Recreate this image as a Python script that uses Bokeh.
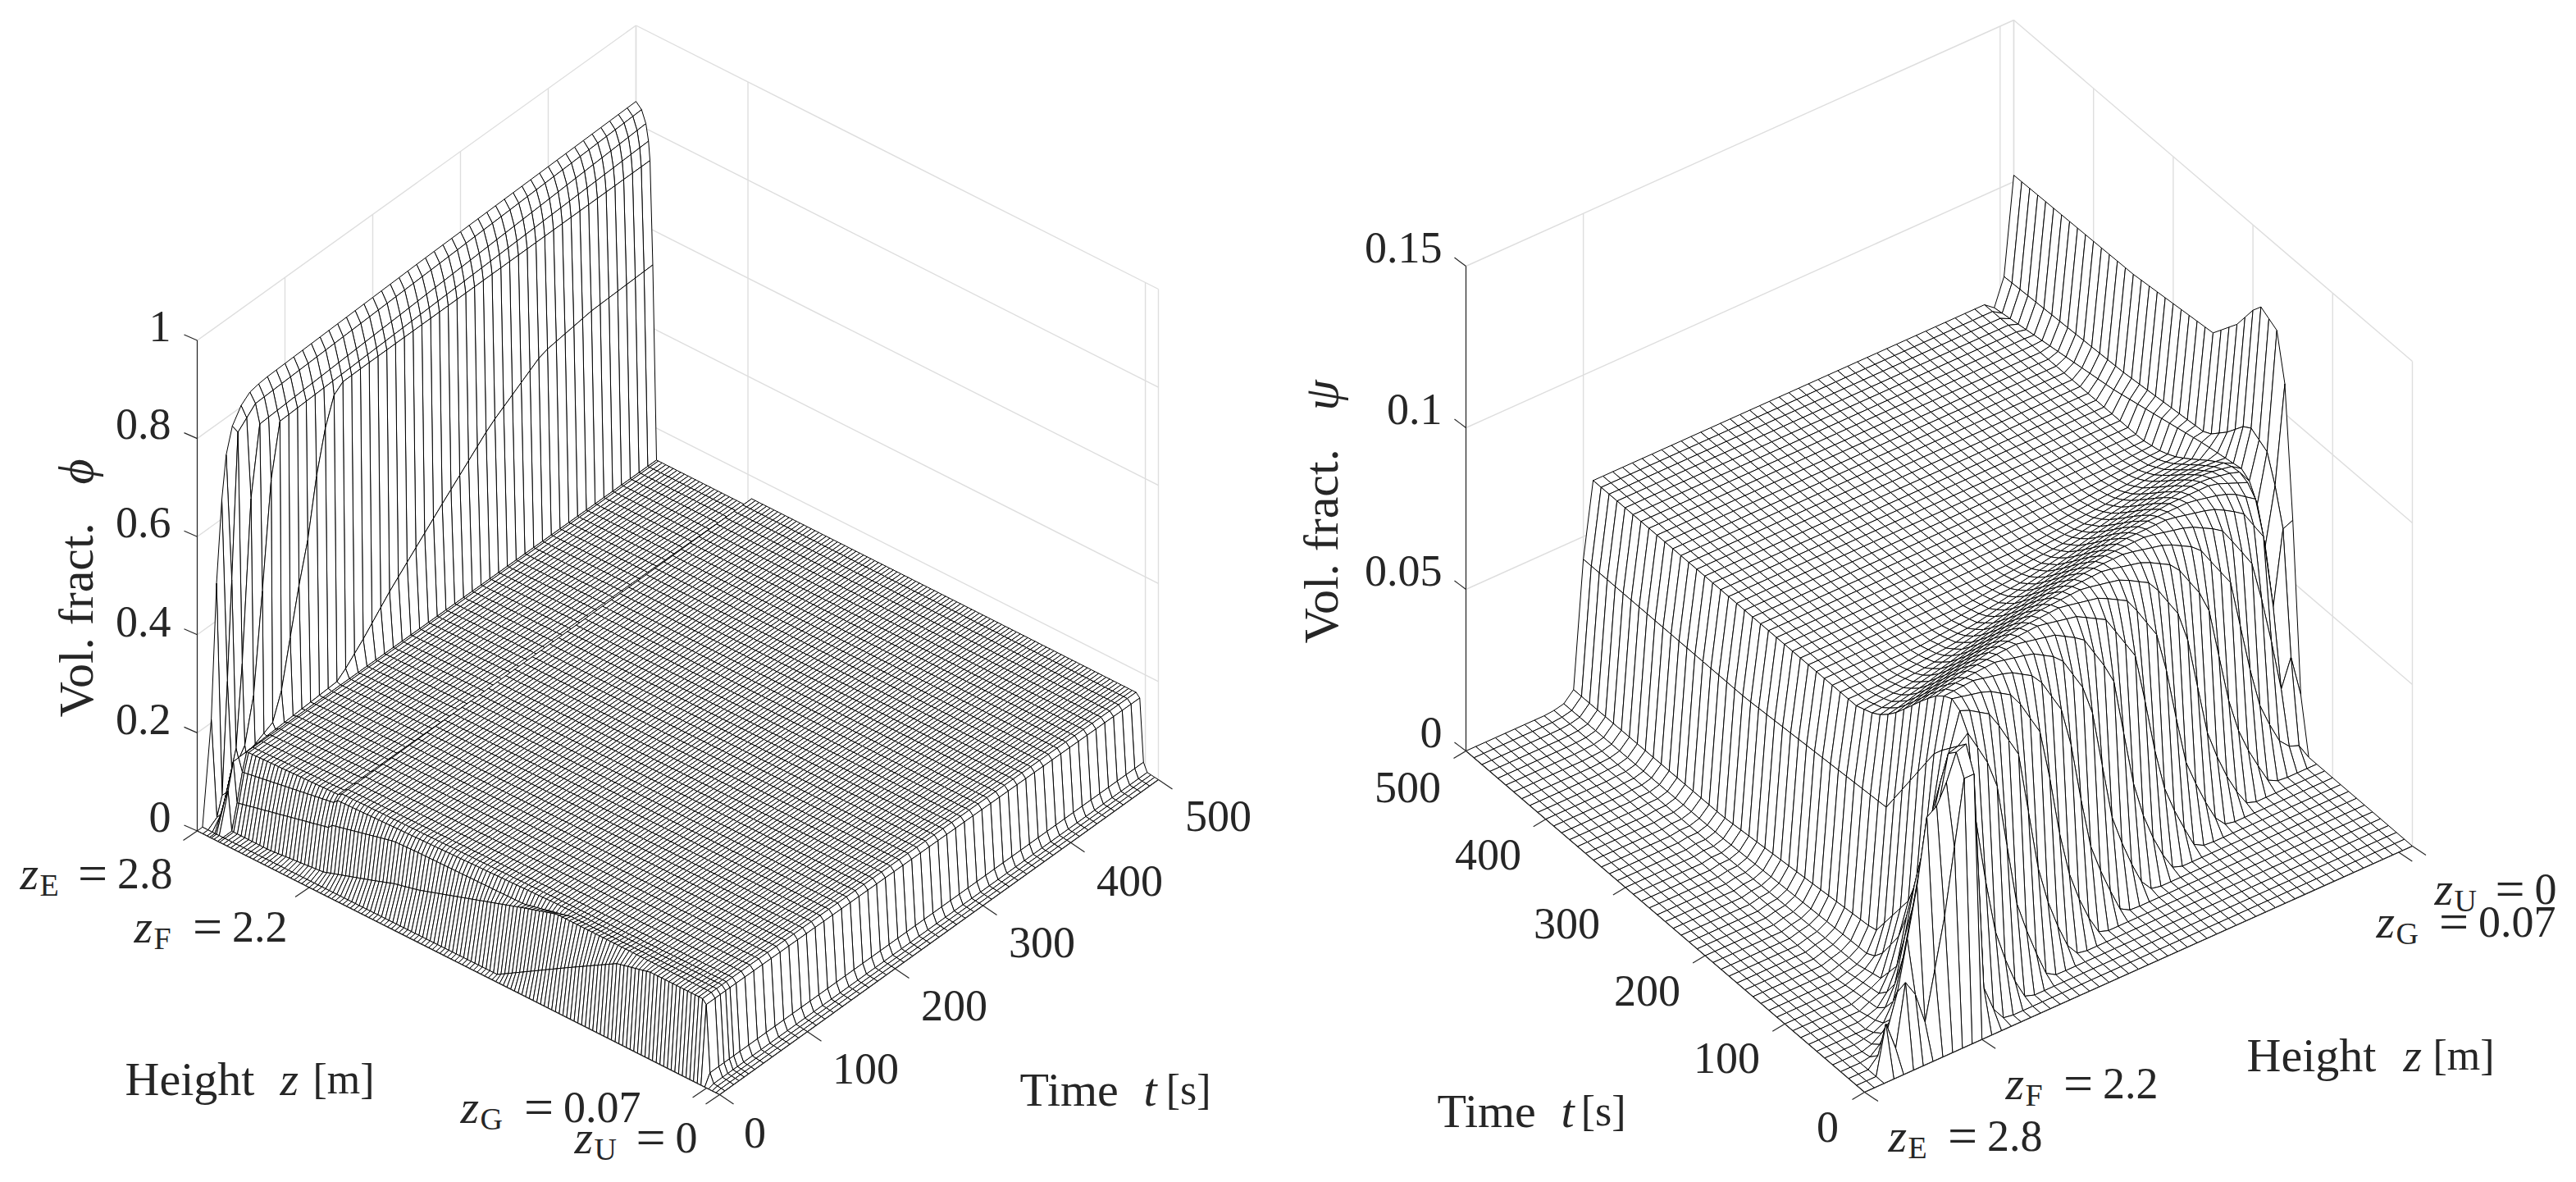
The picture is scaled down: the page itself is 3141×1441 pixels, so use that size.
import numpy as np
from bokeh.plotting import figure
from bokeh.models import Range1d
from bokeh.core.properties import value
from bokeh.embed import file_html
from bokeh.resources import INLINE

# NOTE: values below are estimates (rows, profiles,
# ridge positions). The mesh nodes between those readings are looked up from them,
# because the thousands of individual nodes cannot be read one by one.

# ---------- axis ticks ----------
phi_ticks = [0, 0.2, 0.4, 0.6, 0.8, 1]
phi_labels = ["0", "0.2", "0.4", "0.6", "0.8", "1"]
psi_ticks = [0, 0.05, 0.1, 0.15]
psi_labels = ["0", "0.05", "0.1", "0.15"]
t_ticks = [0, 100, 200, 300, 400, 500]
t_labels = ["0", "100", "200", "300", "400", "500"]
z_ticks = [0, 0.07, 2.2, 2.8]

# ---------- phi surface: early t-rows read along z, then the plateau at t=500 ----------
phi_row_t = [6, 16, 22, 28, 33, 500]
phi_row_z = [
    [0.1, 0.4, 0.58, 0.84, 1.22, 2.69],
    [0.1, 0.95, 1.125, 1.69, 1.82, 1.94, 2.2, 2.49, 2.69],
    [0.1, 0.9, 1.15, 1.72, 1.85, 2.18, 2.2, 2.69],
    [0.1, 1.0, 2.18, 2.2, 2.69],
    [0.1, 1.0, 2.18, 2.2, 2.69],
    [0.1, 1.0, 2.18, 2.2, 2.69],
]
phi_row_v = [
    [0.165, 0.165, 0.148, 0.09, 0.003, 0.0],
    [0.165, 0.165, 0.144, 0.072, 0.06, 0.044, 0.011, 0.0, 0.0],
    [0.165, 0.162, 0.139, 0.135, 0.133, 0.102, 0.094, 0.05],
    [0.165, 0.16, 0.145, 0.137, 0.105],
    [0.165, 0.16, 0.152, 0.147, 0.14],
    [0.155, 0.155, 0.154, 0.135, 0.135],
]
# clear-water layer below z_G
phi_layer_z = [0, 0.06, 0.07, 0.08, 0.09, 0.10, 0.12]
phi_layer_f = [0, 0.02, 0.03, 0.13, 0.6, 0.95, 1]
# sediment wall: z-lines near z_E, each read as a series over t
phi_wall = {
    2.71: ([0, 10, 20, 76, 142, 170, 201, 260, 315, 374, 430, 500],
           [0, 0.0, 0.13, 0.135, 0.142, 0.19, 0.25, 0.35, 0.44, 0.51, 0.525, 0.529]),
    2.725: ([0, 10, 20, 75, 99, 113, 122, 133, 143, 170, 500],
            [0, 0.0, 0.1, 0.15, 0.378, 0.49, 0.61, 0.69, 0.737, 0.738, 0.739]),
    2.733: ([0, 10, 20, 45, 55, 65, 76, 500],
            [0, 0.0, 0.08, 0.15, 0.3, 0.55, 0.745, 0.777]),
    2.747: ([0, 12, 22, 35, 45, 54, 500],
            [0, 0.0, 0.06, 0.15, 0.45, 0.762, 0.81]),
    2.77: ([0, 14, 22, 30, 40, 60, 500],
           [0, 0.0, 0.05, 0.35, 0.767, 0.8, 0.834]),
    2.8: ([0, 14, 17, 23, 29, 35, 44, 56, 74, 252, 500],
          [0, 0.0, 0.31, 0.51, 0.665, 0.754, 0.79, 0.816, 0.823, 0.834, 0.845]),
}
phi_t = [0, 6, 16, 22, 28, 33] + list(range(40, 510, 10))
phi_z = [round(0.02 * i, 3) for i in range(135)] + [2.69, 2.71, 2.725, 2.733, 2.747, 2.77, 2.8]

# ---------- psi surface: z-rows read over t ----------
psi_rows = {
    0.0: ([0, 130, 141, 155, 165.6, 192, 220, 250, 350, 500],
          [0, 0, 0.019, 0.097, 0.123, 0.127, 0.115, 0.106, 0.103, 0.102]),
    0.05: ([0, 125, 135, 149, 167, 193, 220, 245, 350, 500],
           [0, 0, 0.01, 0.0667, 0.087, 0.091, 0.083, 0.077, 0.074, 0.072]),
    0.1: ([0, 122, 135, 150, 165, 184, 239, 350, 500],
          [0, 0, 0.01, 0.045, 0.07, 0.0797, 0.077, 0.07, 0.0637]),
    2.2: ([0, 10, 17, 58, 120, 297, 500],
          [0, 0.08, 0.088, 0.0767, 0.0465, 0.043, 0.043]),
    2.25: ([0, 10, 25, 53, 74, 121, 313, 500],
           [0, 0.08, 0.089, 0.058, 0.03, 0.0094, 0.0043, 0.004]),
    2.3: ([0, 10, 20, 50, 75, 105, 120, 300, 500],
          [0, 0.06, 0.078, 0.05, 0.02, 0.006, 0.004, 0.0015, 0.001]),
    2.35: ([0, 10, 20, 45, 70, 90, 120, 300, 500],
           [0, 0.04, 0.072, 0.04, 0.012, 0.004, 0.002, 0.0005, 0.0003]),
    2.4: ([0, 10, 20, 40, 60, 75, 120, 500],
          [0, 0.025, 0.07, 0.03, 0.01, 0.003, 0.001, 0.0]),
    2.45: ([0, 10, 20, 35, 50, 65, 120],
           [0, 0.01, 0.05, 0.02, 0.008, 0.002, 0.0]),
    2.5: ([0, 10, 20, 30, 40, 52, 80],
          [0, 0.02, 0.035, 0.015, 0.006, 0.002, 0.0]),
    2.55: ([0, 10, 20, 30, 42, 60],
           [0, 0.025, 0.02, 0.008, 0.002, 0.0]),
    2.6: ([0, 10, 20, 30, 40, 60],
          [0, 0.006, 0.01, 0.003, 0.001, 0.0]),
    2.65: ([0, 10, 20, 30, 40],
           [0, 0.015, 0.003, 0.0005, 0.0]),
}
# front over the plateau rows: foot and peak times, ridge and plateau heights by z
psi_front_z = [0.0, 2.15]
psi_foot_t = [131, 3]
psi_peak_t = [192, 50]
psi_ridge_z = [0.15, 0.323, 1.086, 2.15]
psi_ridge_v = [0.082, 0.085, 0.0895, 0.0935]
psi_plateau_z = [0.15, 2.15]
psi_plateau_v = [0.066, 0.066]
psi_rise_s = [0, 0.06, 0.16, 0.25, 0.39, 0.57, 0.75, 1.0]
psi_rise_f = [0, 0.015, 0.15, 0.3, 0.76, 0.93, 0.98, 1.0]
psi_fall_dt = [0, 15, 35, 55, 75, 95, 120]
psi_fall_f = [1.0, 0.93, 0.72, 0.48, 0.25, 0.09, 0.0]
psi_t = list(range(0, 510, 10))
psi_z = [round(0.05 * i, 2) for i in range(57)]

# ---------- build the node tables ----------
phi_grid = np.zeros((len(phi_t), len(phi_z)))
for j, z in enumerate(phi_z):
    if z in phi_wall:
        tt, vv = phi_wall[z]
        phi_grid[:, j] = np.interp(phi_t, tt, vv)
    else:
        col = [0.0] + [float(np.interp(z, a, b)) for a, b in zip(phi_row_z, phi_row_v)]
        phi_grid[:, j] = np.interp(phi_t, [0] + phi_row_t, col) * np.interp(z, phi_layer_z, phi_layer_f)

psi_grid = np.zeros((len(psi_t), len(psi_z)))
ta = np.array(psi_t, float)
for j, z in enumerate(psi_z):
    if z in psi_rows:
        tt, vv = psi_rows[z]
        psi_grid[:, j] = np.interp(psi_t, tt, vv)
    elif z < 2.2:
        foot = np.interp(z, psi_front_z, psi_foot_t)
        peak = np.interp(z, psi_front_z, psi_peak_t)
        ridge = np.interp(z, psi_ridge_z, psi_ridge_v)
        plat = np.interp(z, psi_plateau_z, psi_plateau_v)
        s = (ta - foot) / (peak - foot)
        rise = ridge * np.interp(s, psi_rise_s, psi_rise_f)
        fall = plat + (ridge - plat) * np.interp(ta - peak, psi_fall_dt, psi_fall_f)
        psi_grid[:, j] = np.where(ta <= peak, rise, fall)


# ---------- oblique projections of the two boxes ----------
def proj_phi(z, t, v):
    z, t, v = np.asarray(z, float), np.asarray(t, float), np.asarray(v, float)
    return 877 - 637 * z / 2.8 + 535 * t / 500, 1334 - 321.5 * z / 2.8 - 384 * t / 500 - 598 * v


def proj_psi(z, t, v):
    z, t, v = np.asarray(z, float), np.asarray(t, float), np.asarray(v, float)
    return (2273 + 668 * (2.8 - z) / 2.8 - 486 * t / 500,
            1331 - 300 * (2.8 - z) / 2.8 - 416 * t / 500 - 591 * v / 0.15)


def quads(grid, ts, zs, proj, far_high_z):
    T, Z = np.meshgrid(ts, zs, indexing="ij")
    X, Y = proj(Z, T, grid)
    xs, ys = [], []
    jr = range(len(zs) - 2, -1, -1) if far_high_z else range(len(zs) - 1)
    for i in range(len(ts) - 2, -1, -1):
        for j in jr:
            xs.append([X[i, j], X[i + 1, j], X[i + 1, j + 1], X[i, j + 1]])
            ys.append([Y[i, j], Y[i + 1, j], Y[i + 1, j + 1], Y[i, j + 1]])
    return xs, ys


p = figure(width=3125, height=1425, x_range=Range1d(0, 3125), y_range=Range1d(1425, 0),
           output_backend="svg", toolbar_location=None, min_border=0)
p.xaxis.visible = False
p.yaxis.visible = False
p.grid.visible = False
p.outline_line_color = None

GRID = "#dedede"
AX = "#262626"
FONT = value("Liberation Serif")


def walls(proj, vticks, vmax, z_wall_t, t_wall_z):
    xs0, ys0, xs1, ys1 = [], [], [], []

    def seg(a, b):
        xa, ya = proj(*a)
        xb, yb = proj(*b)
        xs0.append(float(xa)); ys0.append(float(ya)); xs1.append(float(xb)); ys1.append(float(yb))
    for v in vticks:
        seg((t_wall_z, 0, v), (t_wall_z, 500, v))
        seg((0, z_wall_t, v), (2.8, z_wall_t, v))
    for t in t_ticks:
        seg((t_wall_z, t, 0), (t_wall_z, t, vmax))
    for z in z_ticks:
        seg((z, z_wall_t, 0), (z, z_wall_t, vmax))
    p.segment(xs0, ys0, xs1, ys1, line_color=GRID, line_width=1.4)


walls(proj_phi, phi_ticks, 1, 500, 2.8)
walls(proj_psi, psi_ticks, 0.15, 500, 0.0)

for grid, ts, zs, proj, far in [(phi_grid, phi_t, phi_z, proj_phi, True),
                                (psi_grid, psi_t, psi_z, proj_psi, False)]:
    xs, ys = quads(grid, ts, zs, proj, far)
    p.patches(xs, ys, fill_color="white", line_color="black", line_width=1.0, line_join="round")


def axis_line(proj, a, b):
    xa, ya = proj(*a)
    xb, yb = proj(*b)
    p.line([float(xa), float(xb)], [float(ya), float(yb)], line_color=AX, line_width=1.2)


def ticks(proj, pts, dx, dy):
    x0, y0 = [], []
    for a in pts:
        xa, ya = proj(*a)
        x0.append(float(xa)); y0.append(float(ya))
    p.segment(x0, y0, [x + dx for x in x0], [y + dy for y in y0], line_color=AX, line_width=1.2)


axis_line(proj_phi, (2.8, 0, 0), (2.8, 0, 1))
axis_line(proj_phi, (0, 0, 0), (2.8, 0, 0))
axis_line(proj_phi, (0, 0, 0), (0, 500, 0))
ticks(proj_phi, [(2.8, 0, v) for v in phi_ticks], -16, -7)
ticks(proj_phi, [(0, t, 0) for t in t_ticks], 17, 11.5)
ticks(proj_phi, [(z, 0, 0) for z in z_ticks], -17, 11.5)

axis_line(proj_psi, (2.8, 500, 0), (2.8, 500, 0.15))
axis_line(proj_psi, (2.8, 0, 0), (2.8, 500, 0))
axis_line(proj_psi, (0, 0, 0), (2.8, 0, 0))
ticks(proj_psi, [(2.8, 500, v) for v in psi_ticks], -14, -10.5)
ticks(proj_psi, [(2.8, t, 0) for t in t_ticks], -15, 9)
ticks(proj_psi, [(z, 0, 0) for z in z_ticks], 16.5, 11)


def txt(x, y, s, size=54, align="center", base="middle", style="normal", angle=0.0):
    p.text([x], [y], text=[s], text_font=FONT, text_font_size=value(f"{size}px"), text_color=AX,
           text_align=align, text_baseline=base, text_font_style=style, angle=angle)


def zlabel(left, right, yc, sub, val):
    txt(left, yc, "z", 58, "left", "middle", "italic")
    txt(left + 24, yc + 14, sub, 38, "left", "middle")
    txt(right, yc, val, 54, "right", "middle")
    wid = sum(0.25 if c == "." else 0.5 for c in val) * 54
    txt(right - wid - 12, yc, "=", 64, "right", "middle")


# left panel texts
for lab, yc in zip(phi_labels, [995.5, 876, 757, 636, 516.5, 397]):
    txt(208, yc, lab, align="right")
for lab, xc, yc in zip(t_labels, [920, 1055, 1163, 1270, 1377, 1485], [1380, 1302, 1225, 1148, 1073, 994]):
    txt(xc, yc, lab)
zlabel(24, 210, 1064, "E", "2.8")
zlabel(163, 350, 1129, "F", "2.2")
zlabel(561, 781, 1349, "G", "0.07")
zlabel(700, 850, 1386, "U", "0")
txt(152, 1315, "Height", 58, "left")
txt(341, 1315, "z", 58, "left", style="italic")
txt(456, 1315, "[m]", 52, "right")
txt(1243, 1328, "Time", 58, "left")
txt(1394, 1328, "t", 58, "left", style="italic")
txt(1476, 1328, "[s]", 52, "right")
txt(92, 874, "Vol. fract.", 60, "left", angle=np.pi / 2)
txt(92, 590, "\u03d5", 60, "left", style="italic", angle=np.pi / 2)

# right panel texts
for lab, yc in zip(psi_labels, [892, 695, 498, 301]):
    txt(1758, yc, lab, align="right")
for lab, xc, yc in zip(t_labels, [2228, 2105, 2008, 1910, 1814, 1716], [1373, 1289, 1207, 1125, 1041, 959]):
    txt(xc, yc, lab)
zlabel(2302, 2490, 1384, "E", "2.8")
zlabel(2445, 2631, 1320, "F", "2.2")
zlabel(2897, 3116, 1123, "G", "0.07")
zlabel(2968, 3117, 1083, "U", "0")
txt(2739, 1286, "Height", 58, "left")
txt(2930, 1286, "z", 58, "left", style="italic")
txt(3041, 1286, "[m]", 52, "right")
txt(1752, 1354, "Time", 58, "left")
txt(1903, 1354, "t", 58, "left", style="italic")
txt(1982, 1354, "[s]", 52, "right")
txt(1610, 784, "Vol. fract.", 60, "left", angle=np.pi / 2)
txt(1610, 500, "\u03c8", 60, "left", style="italic", angle=np.pi / 2)

open("out.html", "w").write(file_html(p, INLINE))
